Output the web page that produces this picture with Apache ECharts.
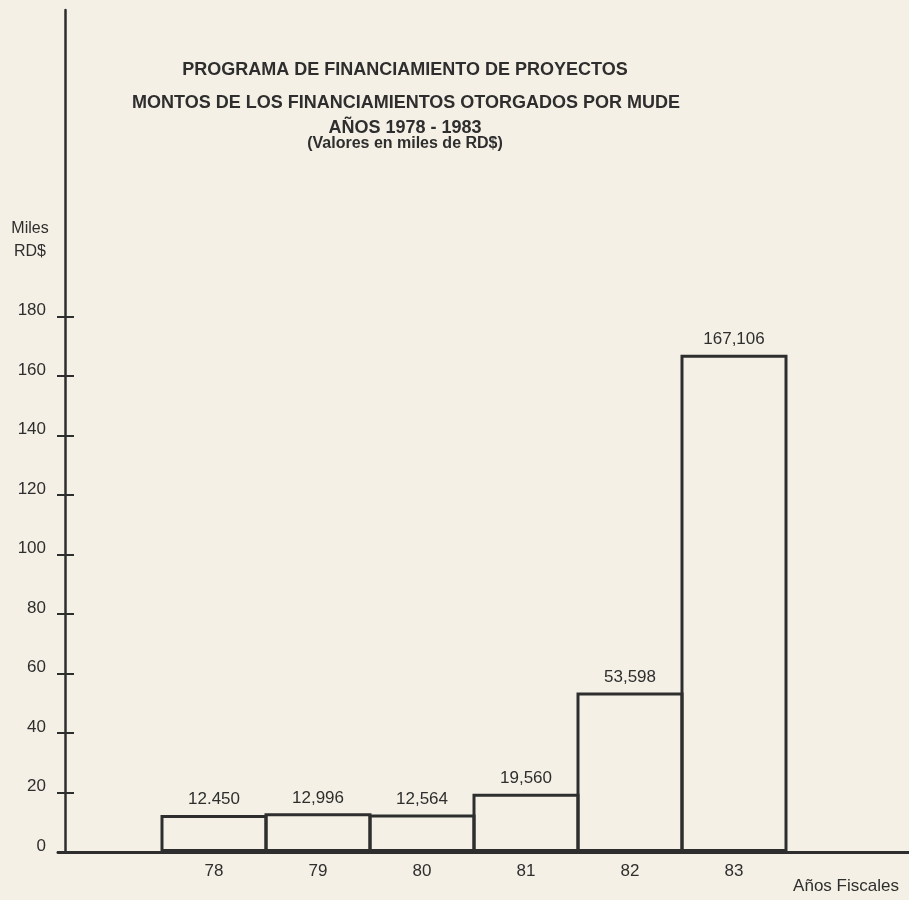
<!DOCTYPE html>
<html lang="es">
<head>
<meta charset="utf-8">
<title>Programa de Financiamiento de Proyectos</title>
<script src="https://cdn.jsdelivr.net/npm/echarts@6/dist/echarts.min.js"></script>
<style>
    html, body { margin: 0; padding: 0; background: #f4f0e5; }
    #chart { width: 909px; height: 900px; }
</style>
</head>
<body>
<div id="chart"></div>
<script>
// datos (miles de RD$ / 1000)
var years = ['78', '79', '80', '81', '82', '83'];
var montos = [12.450, 12.996, 12.564, 19.560, 53.598, 167.106];
var etiquetas = ['12.450', '12,996', '12,564', '19,560', '53,598', '167,106'];
var yTicks = [0, 20, 40, 60, 80, 100, 120, 140, 160, 180];

var ink = '#2e2e2e';
var font = '"Liberation Sans", Arial, sans-serif';

// una categoria vacia antes y dos despues, como en el grafico original
var categorias = [''].concat(years, ['', '']);
var valores = ['-'].concat(montos, ['-', '-']);

var myChart = echarts.init(document.getElementById('chart'));

var option = {
    backgroundColor: '#f4f0e5',
    textStyle: { fontFamily: font, color: ink },
    title: [
        { text: 'PROGRAMA DE FINANCIAMIENTO DE PROYECTOS', left: 405, top: 70 },
        { text: 'MONTOS DE LOS FINANCIAMIENTOS OTORGADOS POR MUDE', left: 406, top: 103 },
        { text: 'AÑOS 1978 - 1983', left: 405, top: 128 },
        { text: '(Valores en miles de RD$)', left: 405, top: 144, textStyle: { fontSize: 16 } },
        { text: 'Miles\nRD$', left: 30, top: 240, textStyle: { fontSize: 16, fontWeight: 'normal', lineHeight: 23 } },
        { text: 'Años Fiscales', left: 846, top: 886, textStyle: { fontSize: 17, fontWeight: 'normal' } }
    ].map(function (t) {
        t.padding = 0;
        t.textAlign = 'center';
        t.textVerticalAlign = 'middle';
        t.textStyle = Object.assign({ fontFamily: font, color: ink, fontSize: 18, fontWeight: 'bold' }, t.textStyle || {});
        return t;
    }),
    grid: { left: 58, top: 10, bottom: 48, width: 936, outerBoundsMode: 'none', containLabel: false },
    xAxis: {
        type: 'category',
        data: categorias,
        axisLine: { lineStyle: { color: ink, width: 3 } },
        axisTick: { show: false },
        axisLabel: { interval: 0, fontSize: 17, color: ink, margin: 11, fontFamily: font }
    },
    yAxis: [
        {
            type: 'value', position: 'left', min: 0, max: 283, offset: -7,
            axisLine: { show: true, lineStyle: { color: ink, width: 2.5 } },
            axisTick: { show: true, length: 8, customValues: yTicks, lineStyle: { color: ink, width: 2 } },
            axisLabel: {
                customValues: yTicks, margin: 19, fontSize: 17, color: ink, fontFamily: font,
                verticalAlign: 'bottom', lineHeight: 12
            },
            splitLine: { show: false }
        },
        {
            type: 'value', position: 'left', min: 0, max: 283, offset: -7,
            axisLine: { show: false },
            axisTick: { show: true, inside: true, length: 9, customValues: yTicks, lineStyle: { color: ink, width: 2 } },
            axisLabel: { show: false },
            splitLine: { show: false }
        }
    ],
    series: [{
        type: 'bar',
        data: valores,
        barWidth: 107,
        itemStyle: { color: 'rgba(0,0,0,0)', borderColor: ink, borderWidth: 3 },
        label: {
            show: true,
            position: 'top',
            distance: 7,
            fontSize: 17,
            color: ink,
            fontFamily: font,
            formatter: function (p) { return etiquetas[p.dataIndex - 1]; }
        },
        silent: true,
        animation: false
    }]
};
myChart.setOption(option);
</script>
</body>
</html>
